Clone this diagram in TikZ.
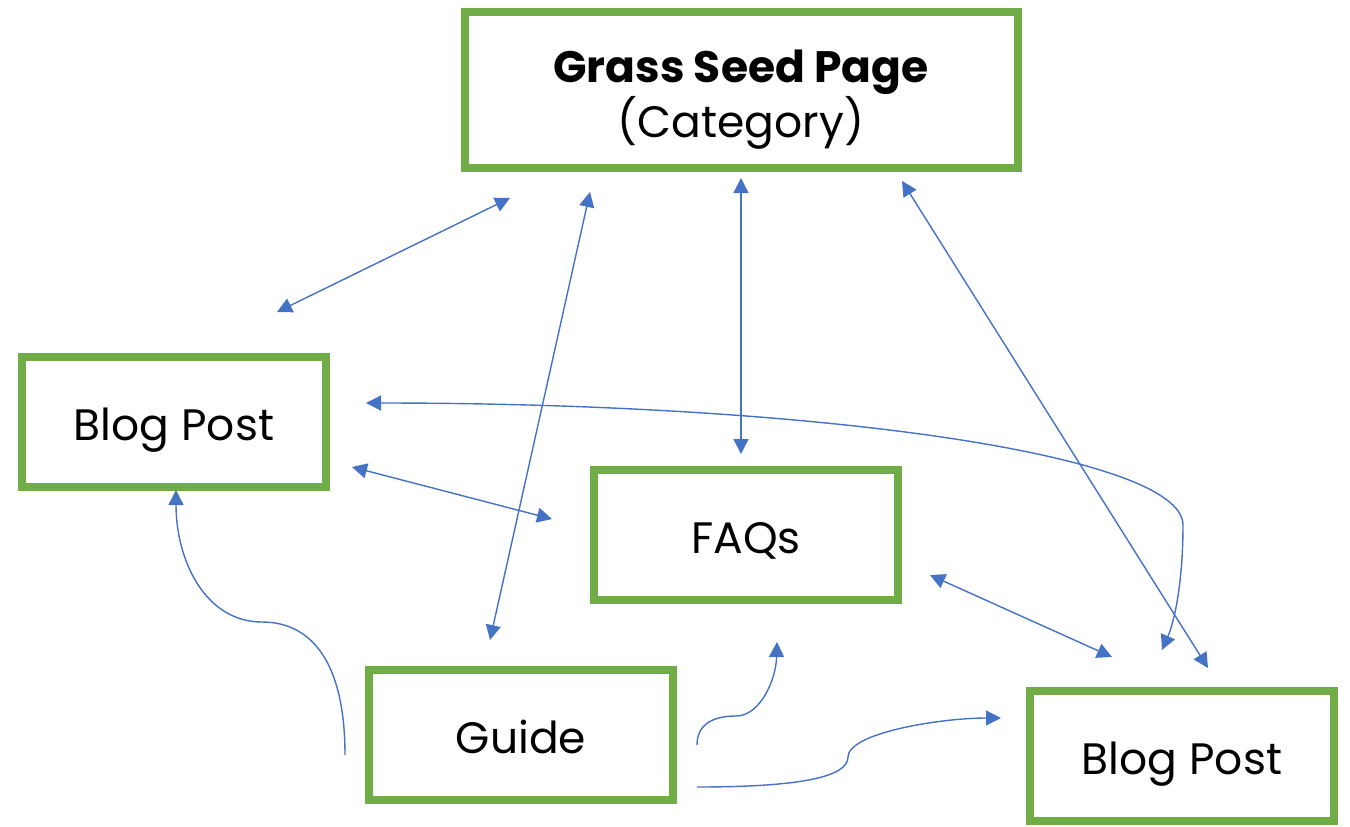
\documentclass[tikz,border=0pt]{standalone}
\usepackage{fontspec}
\setsansfont{Poppins}
\usepackage{xcolor}
\definecolor{leaf}{HTML}{70AD47}
\definecolor{link}{HTML}{4472C4}
\usepackage{tikz}
\usetikzlibrary{arrows.meta, positioning, calc}

\begin{document}
\begin{tikzpicture}[
    x=0.5pt, y=-0.5pt,
    font=\sffamily\fontsize{22pt}{27.5pt}\selectfont,
    page/.style={draw=leaf, line width=4pt, fill=white, minimum width=152pt, minimum height=65pt,
                 align=center, text height=18pt, text depth=0pt},
    linkto/.style={draw=link, line width=0.7pt, -{Triangle[length=7.5pt,width=7.5pt]}},
    linkboth/.style={linkto, {Triangle[length=7.5pt,width=7.5pt]}-{Triangle[length=7.5pt,width=7.5pt]}}
]
\useasboundingbox (0,0) rectangle (1350,826);

% ── Pages ──
\node[page, minimum width=276.5pt, minimum height=78pt, text height=53pt, text depth=6pt] (cat) at (741, 90)
     {\textbf{Grass Seed Page}\\(Category)};
\node[page] (blogL) at (174, 422) {Blog Post};
\node[page] (faq)   at (746, 535) {FAQs};
\node[page] (guide) at (521, 735) {Guide};
\node[page] (blogR) at (1182, 756) {Blog Post};

% ── Loose link ends ──
\coordinate (catSW)   at (510, 198);
\coordinate (blogLNE) at (277, 312);
\coordinate (catG)    at (590, 192);
\coordinate (guideN)  at (490, 640);
\coordinate (catSE)   at (902, 181);
\coordinate (blogRN)  at (1208, 668);
\coordinate (blogLE)  at (352, 467);
\coordinate (faqW)    at (552, 519);
\coordinate (faqSE)   at (930, 575);
\coordinate (blogRNW) at (1112, 657);
\coordinate (blogLR)  at (366, 403);
\coordinate (blogRT)  at (1162, 650);
\coordinate (guideW)  at (345, 755);
\coordinate (blogLS)  at (176, 490);
\coordinate (guideNE) at (697, 745);
\coordinate (faqS)    at (777, 642);
\coordinate (guideE)  at (697, 787);
\coordinate (blogRW)  at (1001, 718);

% ── Straight links ──
\draw[linkboth] (blogLNE) -- (catSW);
\draw[linkboth] (guideN) -- (catG);
\draw[linkboth, shorten <=3pt, shorten >=6pt] (cat.south) -- (faq.north -| cat.south);
\draw[linkboth] (catSE) -- (blogRN);
\draw[linkboth] (blogLE) -- (faqW);
\draw[linkboth] (faqSE) -- (blogRNW);

% ── Curved links ──
\draw[linkboth] (blogLR) .. controls (820, 403) and (1183, 455) .. (1183, 525)
     .. controls (1183, 580) and (1175, 620) .. (blogRT);
\draw[linkto] (guideW) .. controls (345, 660) and (310, 622) .. (262, 622)
     .. controls (205, 622) and (176, 560) .. (blogLS);
\draw[linkto] (guideNE) .. controls (697, 725) and (712, 716) .. (736, 716)
     .. controls (760, 716) and (776, 680) .. (faqS);
\draw[linkto] (guideE) .. controls (800, 787) and (848, 777) .. (848, 757)
     .. controls (848, 733) and (940, 718) .. (blogRW);

\end{tikzpicture}
\end{document}
